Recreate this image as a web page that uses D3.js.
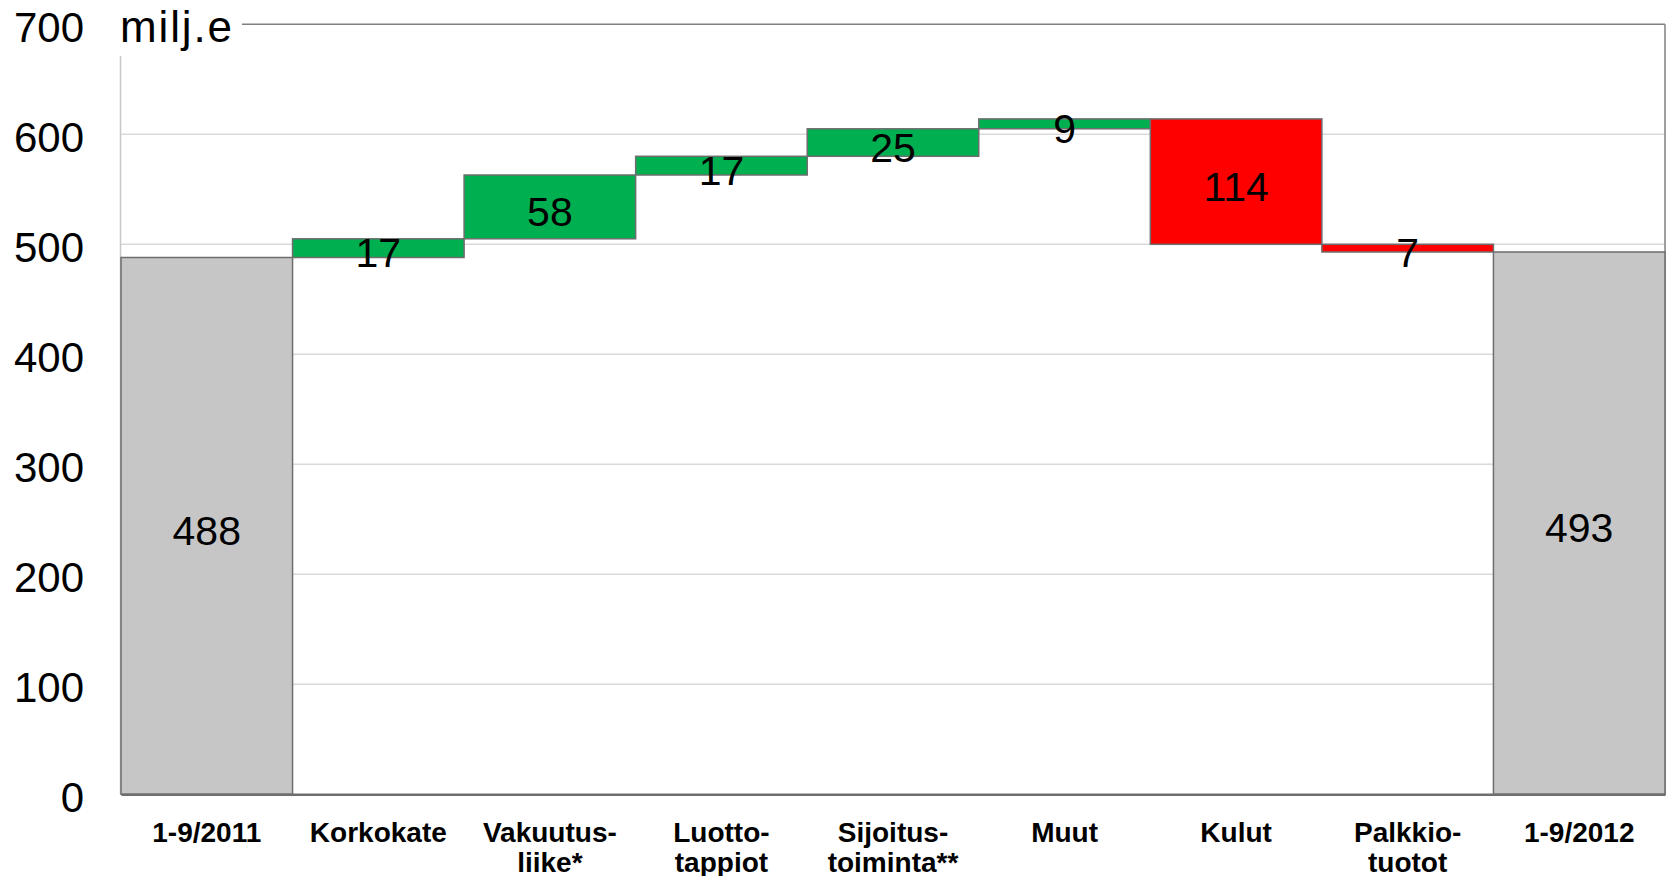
<!DOCTYPE html>
<html>
<head>
<meta charset="utf-8">
<script src="https://cdn.jsdelivr.net/npm/d3@7/dist/d3.min.js"></script>
<style>
  body { margin: 0; background: #fff; }
  svg { display: block; font-family: "Liberation Sans", Arial, sans-serif; }
</style>
</head>
<body>
<div id="chart"></div>
<script>
// waterfall data, milj.e
var categories = ["1-9/2011", "Korkokate", "Vakuutus-liike*", "Luotto-tappiot", "Sijoitus-toiminta**", "Muut", "Kulut", "Palkkio-tuotot", "1-9/2012"];
var labelLines = [["1-9/2011"], ["Korkokate"], ["Vakuutus-", "liike*"], ["Luotto-", "tappiot"], ["Sijoitus-", "toiminta**"], ["Muut"], ["Kulut"], ["Palkkio-", "tuotot"], ["1-9/2012"]];
var changes = [488, 17, 58, 17, 25, 9, -114, -7, 493];
var kinds = ["total", "up", "up", "up", "up", "up", "down", "down", "total"];
var yTicks = [0, 100, 200, 300, 400, 500, 600, 700];
var unitLabel = "milj.e";

var colors = { total: "#c6c6c6", up: "#00b050", down: "#ff0000" };

var W = 1667, H = 876;
var plot = { left: 121, right: 1665, top: 24.3, bottom: 794.3 };

var svg = d3.select("#chart").append("svg")
      .attr("width", W)
      .attr("height", H);

var x = d3.scaleBand()
      .domain(categories)
      .range([plot.left, plot.right])
      .padding(0);

var y = d3.scaleLinear()
      .domain([0, 700])
      .range([plot.bottom, plot.top]);

// build the bars (start / end of each step)
var bars = [];
var running = 0;
for (var i = 0; i < categories.length; i++) {
      var b = { cat: categories[i], kind: kinds[i], label: Math.abs(changes[i]) };
      if (kinds[i] == "total") {
            b.y0 = 0; b.y1 = changes[i];
            running = changes[i];
      } else {
            b.y0 = running; b.y1 = running + changes[i];
            running = b.y1;
      }
      bars.push(b);
}

// gridlines
svg.append("g")
      .selectAll("line")
      .data(yTicks.filter(function (t) { return t > 0 && t < 700; }))
      .join("line")
      .attr("x1", plot.left).attr("x2", plot.right)
      .attr("y1", function (d) { return y(d); })
      .attr("y2", function (d) { return y(d); })
      .attr("stroke", "#d9d9d9")
      .attr("stroke-width", 1.5);

// y axis labels
var yAxis = svg.append("g")
      .attr("transform", "translate(" + (plot.left - 1) + ",0)")
      .call(d3.axisLeft(y).tickValues(yTicks).tickSize(0).tickPadding(36).tickFormat(d3.format("d")));
yAxis.select(".domain").remove();
yAxis.selectAll("text")
      .attr("dy", "0.42em")
      .style("font-size", "42px")
      .style("font-family", "Liberation Sans, Arial, sans-serif")
      .attr("fill", "#000");

// frame lines
svg.append("line")
      .attr("x1", plot.left - 0.5).attr("x2", plot.left - 0.5)
      .attr("y1", 56).attr("y2", plot.bottom)
      .attr("stroke", "#c8c8c8").attr("stroke-width", 1.5);
svg.append("line")
      .attr("x1", 242).attr("x2", plot.right)
      .attr("y1", y(700)).attr("y2", y(700))
      .attr("stroke", "#808080").attr("stroke-width", 1.5);
svg.append("line")
      .attr("x1", plot.right).attr("x2", plot.right)
      .attr("y1", y(700)).attr("y2", plot.bottom)
      .attr("stroke", "#808080").attr("stroke-width", 1.5);

// bars
svg.append("g")
      .selectAll("rect")
      .data(bars)
      .join("rect")
      .attr("x", function (d) { return x(d.cat); })
      .attr("width", x.bandwidth())
      .attr("y", function (d) { return y(Math.max(d.y0, d.y1)); })
      .attr("height", function (d) { return Math.abs(y(d.y0) - y(d.y1)); })
      .attr("fill", function (d) { return colors[d.kind]; })
      .attr("stroke", "#6e6e6e")
      .attr("stroke-width", 1.5);

// value labels
svg.append("g")
      .selectAll("text")
      .data(bars)
      .join("text")
      .attr("x", function (d) { return x(d.cat) + x.bandwidth() / 2; })
      .attr("y", function (d) { return (y(d.y0) + y(d.y1)) / 2 + 19; })
      .attr("text-anchor", "middle")
      .style("font-size", "41px")
      .attr("fill", "#000")
      .text(function (d) { return d.label; });

// x axis
var xAxis = svg.append("g")
      .attr("transform", "translate(0," + plot.bottom + ")")
      .call(d3.axisBottom(x).tickSize(0).tickFormat(""));
xAxis.select(".domain")
      .attr("stroke", "#6e6e6e")
      .attr("stroke-width", 2.5);
xAxis.selectAll(".tick text").remove();

// category labels, two lines where the original wraps
svg.append("g")
      .selectAll("text")
      .data(categories)
      .join("text")
      .attr("x", function (d) { return x(d) + x.bandwidth() / 2; })
      .attr("y", 842)
      .attr("text-anchor", "middle")
      .style("font-size", "28px")
      .style("font-weight", "bold")
      .attr("fill", "#000")
      .each(function (d, i) {
            var t = d3.select(this);
            labelLines[i].forEach(function (line, k) {
                  t.append("tspan")
                        .attr("x", x(d) + x.bandwidth() / 2)
                        .attr("dy", k == 0 ? 0 : 30)
                        .text(line);
            });
      });

// unit label on top-left
svg.append("rect")
      .attr("x", 100).attr("y", 0)
      .attr("width", 140).attr("height", 54)
      .attr("fill", "#fff");
svg.append("text")
      .attr("x", 120)
      .attr("y", 41.5)
      .attr("textLength", 112)
      .style("font-size", "44px")
      .attr("fill", "#000")
      .text(unitLabel);
</script>
</body>
</html>
